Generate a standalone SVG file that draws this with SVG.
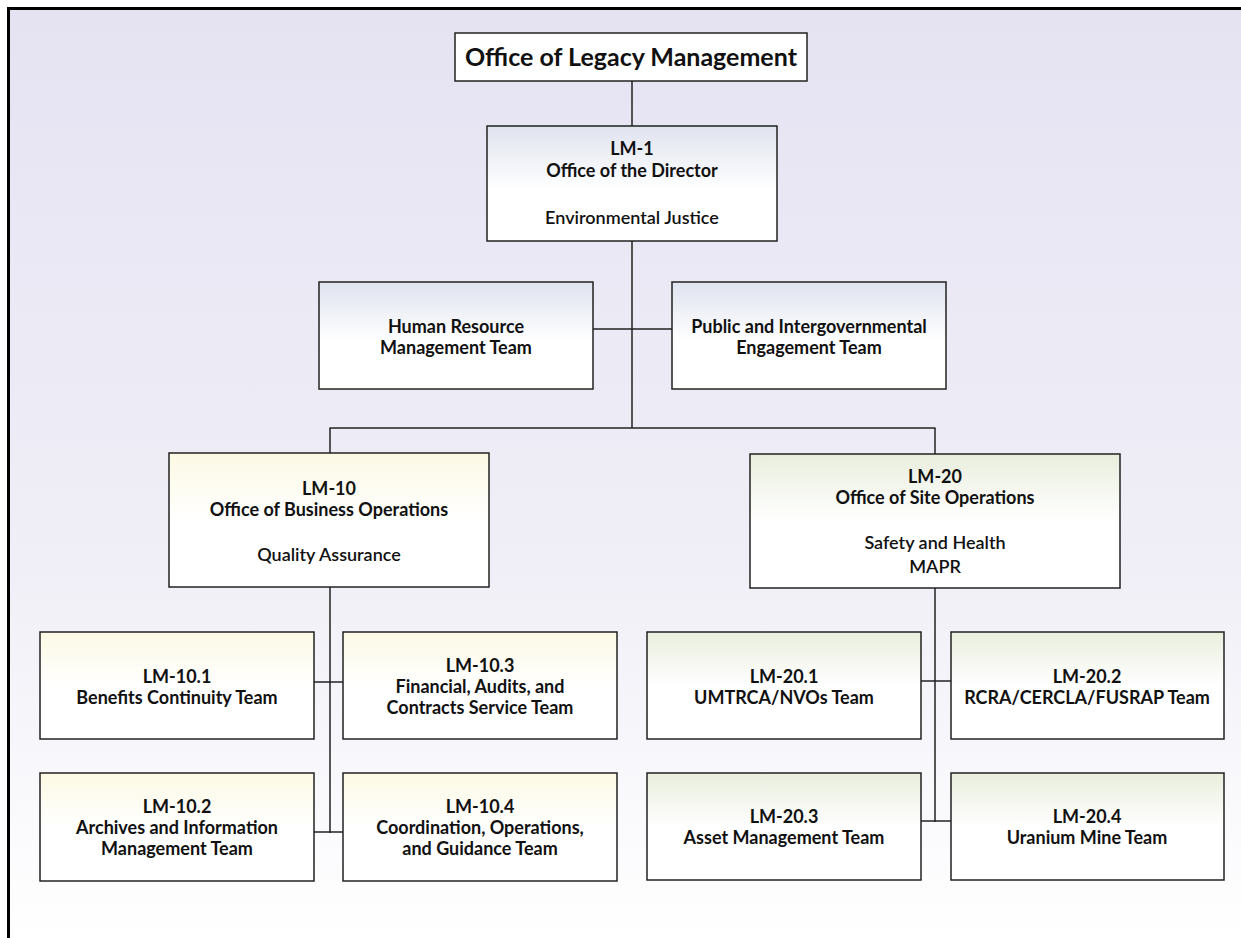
<svg xmlns="http://www.w3.org/2000/svg" width="1241" height="938" viewBox="0 0 1241 938">
<defs>
<linearGradient id="bg" x1="0" y1="0" x2="0" y2="1">
<stop offset="0" stop-color="#e5e3f2"/>
<stop offset="0.6" stop-color="#f0eff7"/>
<stop offset="1" stop-color="#ffffff"/>
</linearGradient>
<linearGradient id="gBlue" x1="0" y1="0" x2="0" y2="1">
<stop offset="0" stop-color="#dfe3ef"/>
<stop offset="0.55" stop-color="#ffffff"/>
<stop offset="1" stop-color="#ffffff"/>
</linearGradient>
<linearGradient id="gCream" x1="0" y1="0" x2="0" y2="1">
<stop offset="0" stop-color="#fcf9e4"/>
<stop offset="0.5" stop-color="#ffffff"/>
<stop offset="1" stop-color="#ffffff"/>
</linearGradient>
<linearGradient id="gGreen" x1="0" y1="0" x2="0" y2="1">
<stop offset="0" stop-color="#e9eedd"/>
<stop offset="0.5" stop-color="#ffffff"/>
<stop offset="1" stop-color="#ffffff"/>
</linearGradient>
</defs>
<style>
.box{stroke:#222;stroke-width:1.5}
.blue{fill:url(#gBlue)}
.cream{fill:url(#gCream)}
.green{fill:url(#gGreen)}
text{font-family:Lato,"Liberation Sans",sans-serif;font-weight:700;fill:#111;text-anchor:middle;font-size:18px}
.title{font-size:25px}
.reg{font-weight:600}
.conn line{stroke:#222;stroke-width:1.5}
</style>
<rect x="0" y="0" width="1241" height="938" fill="#ffffff"/>
<rect x="9" y="9" width="1232" height="929" fill="url(#bg)"/>
<path d="M8.5,938 V8.5 H1241" fill="none" stroke="#000" stroke-width="3"/>

<g class="conn" id="connectors">
<line x1="632" y1="81" x2="632" y2="126"/>
<line x1="632" y1="241" x2="632" y2="428"/>
<line x1="593" y1="329" x2="672" y2="329"/>
<line x1="329.5" y1="428" x2="935.5" y2="428"/>
<line x1="330" y1="428" x2="330" y2="453"/>
<line x1="935" y1="428" x2="935" y2="454"/>
<line x1="330" y1="587" x2="330" y2="833"/>
<line x1="314" y1="682" x2="343" y2="682"/>
<line x1="314" y1="832" x2="343" y2="832"/>
<line x1="935" y1="588" x2="935" y2="822"/>
<line x1="921" y1="681" x2="951" y2="681"/>
<line x1="921" y1="821" x2="951" y2="821"/>
</g>

<g id="olm">
<rect class="box" x="455" y="33" width="352" height="48" fill="#ffffff"/>
<text class="title" x="631" y="66">Office of Legacy Management</text>
</g>

<g id="lm1">
<rect class="box blue" x="487" y="126" width="290" height="115"/>
<text x="632" y="155">LM-1</text>
<text x="632" y="177">Office of the Director</text>
<text class="reg" x="632" y="224">Environmental Justice</text>
</g>

<g id="hr">
<rect class="box blue" x="319" y="282" width="274" height="107"/>
<text x="456" y="333">Human Resource</text>
<text x="456" y="354">Management Team</text>
</g>

<g id="pie">
<rect class="box blue" x="672" y="282" width="274" height="107"/>
<text x="809" y="333">Public and Intergovernmental</text>
<text x="809" y="354">Engagement Team</text>
</g>

<g id="lm10">
<rect class="box cream" x="169" y="453" width="320" height="134"/>
<text x="329" y="495">LM-10</text>
<text x="329" y="516">Office of Business Operations</text>
<text class="reg" x="329" y="561">Quality Assurance</text>
</g>

<g id="lm20">
<rect class="box green" x="750" y="454" width="370" height="134"/>
<text x="935" y="483">LM-20</text>
<text x="935" y="504">Office of Site Operations</text>
<text class="reg" x="935" y="549">Safety and Health</text>
<text class="reg" x="935" y="573">MAPR</text>
</g>

<g id="lm10-1">
<rect class="box cream" x="40" y="632" width="274" height="107"/>
<text x="177" y="683">LM-10.1</text>
<text x="177" y="704">Benefits Continuity Team</text>
</g>

<g id="lm10-3">
<rect class="box cream" x="343" y="632" width="274" height="107"/>
<text x="480" y="672">LM-10.3</text>
<text x="480" y="693">Financial, Audits, and</text>
<text x="480" y="714">Contracts Service Team</text>
</g>

<g id="lm10-2">
<rect class="box cream" x="40" y="773" width="274" height="108"/>
<text x="177" y="813">LM-10.2</text>
<text x="177" y="834">Archives and Information</text>
<text x="177" y="855">Management Team</text>
</g>

<g id="lm10-4">
<rect class="box cream" x="343" y="773" width="274" height="108"/>
<text x="480" y="813">LM-10.4</text>
<text x="480" y="834">Coordination, Operations,</text>
<text x="480" y="855">and Guidance Team</text>
</g>

<g id="lm20-1">
<rect class="box green" x="647" y="632" width="274" height="107"/>
<text x="784" y="683">LM-20.1</text>
<text x="784" y="704">UMTRCA/NVOs Team</text>
</g>

<g id="lm20-2">
<rect class="box green" x="951" y="632" width="273" height="107"/>
<text x="1087" y="683">LM-20.2</text>
<text x="1087" y="704">RCRA/CERCLA/FUSRAP Team</text>
</g>

<g id="lm20-3">
<rect class="box green" x="647" y="773" width="274" height="107"/>
<text x="784" y="823">LM-20.3</text>
<text x="784" y="844">Asset Management Team</text>
</g>

<g id="lm20-4">
<rect class="box green" x="951" y="773" width="273" height="107"/>
<text x="1087" y="823">LM-20.4</text>
<text x="1087" y="844">Uranium Mine Team</text>
</g>
</svg>
